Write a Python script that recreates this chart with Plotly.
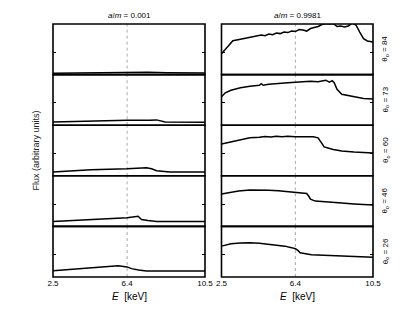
import plotly.graph_objects as go

# ---- data ----
angles = [84, 73, 60, 46, 26]
col_titles = ["0.001", "0.9981"]
x_ticks = [2.5, 6.4, 10.5]
y_tick = [0.44]

# left column: a/m = 0.001
L84_E = [2.5, 4.5, 6.4, 7.5, 8.5, 10.5]
L84_F = [0.025, 0.035, 0.045, 0.045, 0.035, 0.03]
L73_E = [2.5, 4.5, 6.4, 7.6, 7.95, 8.4, 10.5]
L73_F = [0.065, 0.09, 0.10, 0.10, 0.105, 0.065, 0.06]
L60_E = [2.5, 4.5, 6.4, 7.2, 7.42, 7.69, 7.95, 8.65, 10.5]
L60_F = [0.074, 0.12, 0.14, 0.15, 0.16, 0.14, 0.10, 0.074, 0.074]
L46_E = [2.5, 5.0, 6.4, 6.98, 7.16, 7.5, 7.95, 10.5]
L46_F = [0.098, 0.15, 0.17, 0.20, 0.137, 0.115, 0.098, 0.098]
L26_E = [2.5, 4.5, 5.93, 6.4, 6.63, 7.0, 7.42, 10.5]
L26_F = [0.125, 0.18, 0.22, 0.20, 0.165, 0.14, 0.12, 0.12]

# right column: a/m = 0.9981
R84_E = [2.5, 2.8, 3.1, 3.5, 4.0, 4.4, 4.6, 4.8, 5.0, 5.2, 5.4, 5.6, 5.8, 6.0,
         6.2, 6.4, 6.6, 6.8, 7.0, 7.2, 7.4, 7.6, 7.8, 8.0, 8.2, 8.4, 8.6, 8.8,
         9.0, 9.2, 9.4, 9.6, 9.8, 10.0, 10.2, 10.5]
R84_F = [0.41, 0.53, 0.67, 0.70, 0.73, 0.76, 0.78, 0.77, 0.80, 0.79, 0.82, 0.81,
         0.84, 0.83, 0.86, 0.85, 0.89, 0.88, 0.86, 0.91, 0.93, 0.95, 0.99, 1.01,
         1.00, 1.01, 0.95, 0.96, 0.94, 0.96, 1.02, 0.98, 0.84, 0.71, 0.665, 0.645]
R73_E = [2.5, 2.7, 3.0, 3.5, 4.0, 4.5, 4.6, 4.7, 5.0, 5.5, 6.0, 6.4, 6.8, 7.2,
         7.6, 7.8, 8.0, 8.2, 8.35, 8.45, 8.6, 8.85, 9.5, 10.0, 10.5]
R73_F = [0.56, 0.64, 0.69, 0.74, 0.77, 0.79, 0.82, 0.79, 0.81, 0.83, 0.84, 0.85,
         0.86, 0.87, 0.86, 0.87, 0.89, 0.85, 0.88, 0.84, 0.71, 0.61, 0.57, 0.53, 0.52]
R60_E = [2.5, 2.9, 3.0, 3.5, 4.0, 4.5, 4.8, 5.1, 5.4, 5.7, 6.0, 6.4, 6.7, 7.0,
         7.35, 7.6, 7.78, 7.92, 8.4, 8.85, 9.5, 10.5]
R60_F = [0.63, 0.66, 0.68, 0.72, 0.75, 0.76, 0.775, 0.765, 0.78, 0.77, 0.78, 0.77,
         0.775, 0.77, 0.77, 0.75, 0.65, 0.57, 0.52, 0.49, 0.47, 0.45]
R46_E = [2.5, 3.0, 3.4, 4.0, 4.5, 5.0, 5.5, 6.0, 6.4, 6.7, 7.0, 7.1, 7.2, 7.45,
         8.0, 8.85, 9.5, 10.5]
R46_F = [0.64, 0.68, 0.70, 0.72, 0.72, 0.715, 0.705, 0.69, 0.68, 0.67, 0.65, 0.60,
         0.54, 0.50, 0.48, 0.46, 0.445, 0.425]
R26_E = [2.5, 3.0, 3.5, 4.0, 4.5, 5.0, 5.5, 5.85, 6.2, 6.4, 6.55, 6.65, 7.25,
         8.0, 9.0, 10.5]
R26_F = [0.61, 0.655, 0.67, 0.675, 0.665, 0.65, 0.63, 0.61, 0.58, 0.56, 0.52,
         0.48, 0.44, 0.425, 0.41, 0.39]

left = [(L84_E, L84_F), (L73_E, L73_F), (L60_E, L60_F), (L46_E, L46_F), (L26_E, L26_F)]
right = [(R84_E, R84_F), (R73_E, R73_F), (R60_E, R60_F), (R46_E, R46_F), (R26_E, R26_F)]

# ---- layout ----
FONT = "Liberation Sans, Arial, sans-serif"
W, H = 415, 311
ML, MR, MT, MB = 53, 42, 24, 34
PW = W - ML - MR
PH = H - MT - MB
col_dom = [[0.0, 152.0 / PW], [168.5 / PW, 1.0]]
nrows = 5

fig = go.Figure()
layout = dict(
    width=W, height=H,
    margin=dict(l=ML, r=MR, t=MT, b=MB, pad=0),
    paper_bgcolor="white", plot_bgcolor="white",
    showlegend=False,
    font=dict(family=FONT, size=8, color="black"),
)
shapes = []
annotations = []

idx = 0
for r in range(nrows):
    y0 = 1 - (r + 1) / nrows
    y1 = 1 - r / nrows
    for c, data in enumerate([left, right]):
        idx += 1
        xa = "xaxis" if idx == 1 else f"xaxis{idx}"
        ya = "yaxis" if idx == 1 else f"yaxis{idx}"
        xr = "x" if idx == 1 else f"x{idx}"
        yr = "y" if idx == 1 else f"y{idx}"
        E, F = data[r]
        fig.add_trace(go.Scatter(x=E, y=F, mode="lines", xaxis=xr, yaxis=yr,
                                 line=dict(color="black", width=1.5),
                                 hoverinfo="skip"))
        bottom = (r == nrows - 1)
        layout[xa] = dict(domain=col_dom[c], anchor=yr, range=[2.5, 10.5],
                          showline=False, showgrid=False, zeroline=False,
                          tickvals=x_ticks, ticks="",
                          showticklabels=bottom,
                          tickfont=dict(size=8, family=FONT, color="black"))
        layout[ya] = dict(domain=[y0, y1], anchor=xr, range=[0, 1],
                          showline=False, mirror="ticks",
                          showgrid=False, zeroline=False,
                          tickvals=y_tick, ticks="inside", ticklen=3,
                          tickcolor="black", tickwidth=1,
                          showticklabels=False)
        shapes.append(dict(type="line", xref=xr, yref=f"{yr} domain",
                           x0=6.4, x1=6.4, y0=0, y1=1, layer="below",
                           line=dict(color="#aaaaaa", width=1, dash="dot")))
        shapes.append(dict(type="rect", xref=f"{xr} domain", yref=f"{yr} domain",
                           x0=0, x1=1, y0=0, y1=1, layer="above",
                           line=dict(color="black", width=1.6)))

fig.update_layout(**layout)

# column titles and x labels
for c, t in enumerate(col_titles):
    xc = (col_dom[c][0] + col_dom[c][1]) / 2
    annotations.append(dict(
        xref="paper", yref="paper", x=xc, y=1 + 8.5 / PH,
        text="<i>a</i>/<i>m</i> = " + t,
        showarrow=False, xanchor="center", yanchor="middle",
        font=dict(size=8, family=FONT, color="black")))
    annotations.append(dict(
        xref="paper", yref="paper", x=xc, y=-19.5 / PH,
        text="<i>E</i>  [keV]", showarrow=False,
        xanchor="center", yanchor="middle",
        font=dict(size=10, family=FONT, color="black")))

# angle labels on the right
for r, a in enumerate(angles):
    annotations.append(dict(
        xref="paper", yref="paper",
        x=1 + 12.5 / PW, y=1 - (r + 0.5) / nrows,
        text=f"θ<sub>o</sub> = {a}", textangle=-90, showarrow=False,
        xanchor="center", yanchor="middle",
        font=dict(size=8, family=FONT, color="black")))

# y label
annotations.append(dict(
    xref="paper", yref="paper", x=-18.0 / PW, y=0.5,
    text="Flux (arbitrary units)", textangle=-90, showarrow=False,
    xanchor="center", yanchor="middle",
    font=dict(size=9, family=FONT, color="#222222")))

fig.update_layout(shapes=shapes, annotations=annotations)
fig.write_html("out.html", config={"displayModeBar": False},
               post_script="document.body.style.margin='0';")
